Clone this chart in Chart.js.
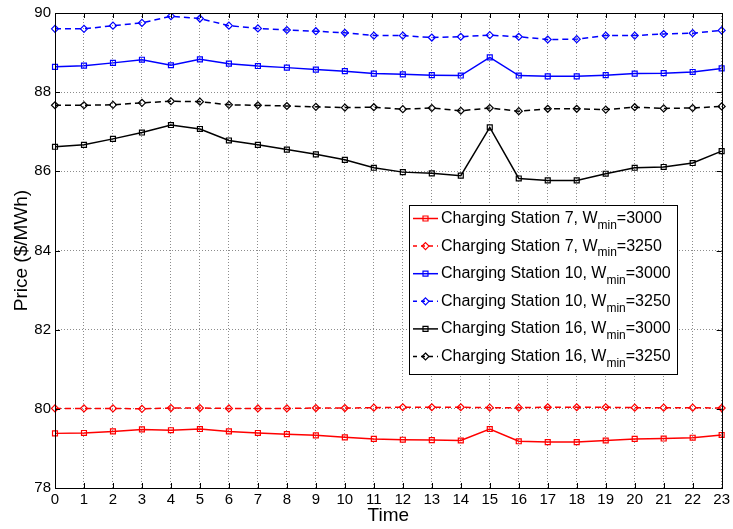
<!DOCTYPE html>
<html lang="en">
<head>
  <meta charset="UTF-8" />
  <title>Price per charging station</title>
  <style>
    body { margin: 0; background: #ffffff; }
    #wrap { width: 733px; height: 529px; }
  </style>
</head>
<body>
  <div id="wrap"><canvas id="priceChart" width="733" height="529"></canvas></div>

  <script src="https://cdn.jsdelivr.net/npm/chart.js"></script>
  <script>
    // time slots 0..23
    const hours = ['0','1','2','3','4','5','6','7','8','9','10','11','12','13','14','15','16','17','18','19','20','21','22','23'];

    const cs7_3000 = [79.38, 79.39, 79.43, 79.48, 79.46, 79.49, 79.43, 79.39, 79.36, 79.33, 79.28, 79.24,
                      79.22, 79.21, 79.20, 79.49, 79.18, 79.16, 79.16, 79.20, 79.24, 79.25, 79.27, 79.34];
    const cs7_3250 = [80.01, 80.01, 80.01, 80.00, 80.02, 80.02, 80.01, 80.01, 80.01, 80.02, 80.02, 80.03,
                      80.04, 80.04, 80.04, 80.03, 80.03, 80.04, 80.04, 80.04, 80.03, 80.03, 80.03, 80.02];
    const cs10_3000 = [88.64, 88.67, 88.74, 88.82, 88.68, 88.83, 88.72, 88.66, 88.62, 88.57, 88.53, 88.47,
                       88.45, 88.43, 88.42, 88.88, 88.42, 88.40, 88.40, 88.43, 88.47, 88.48, 88.51, 88.60];
    const cs10_3250 = [89.60, 89.60, 89.68, 89.75, 89.92, 89.86, 89.68, 89.61, 89.57, 89.54, 89.50, 89.43,
                       89.43, 89.38, 89.40, 89.44, 89.40, 89.33, 89.34, 89.43, 89.43, 89.47, 89.49, 89.56];
    const cs16_3000 = [86.62, 86.67, 86.82, 86.98, 87.17, 87.07, 86.78, 86.67, 86.55, 86.43, 86.29, 86.09,
                       85.98, 85.95, 85.89, 87.11, 85.82, 85.77, 85.77, 85.94, 86.09, 86.11, 86.21, 86.51];
    const cs16_3250 = [87.67, 87.67, 87.68, 87.73, 87.77, 87.76, 87.68, 87.67, 87.65, 87.63, 87.61, 87.62,
                       87.57, 87.60, 87.53, 87.60, 87.52, 87.58, 87.58, 87.56, 87.62, 87.59, 87.60, 87.64];

    const stations = ['7', '7', '10', '10', '16', '16'];
    const wmin = ['3000', '3250', '3000', '3250', '3000', '3250'];
    const yTicks = [78, 80, 82, 84, 86, 88, 90];

    const FONT = '"Liberation Sans", Arial, Helvetica, sans-serif';

    const series = [
      { data: cs7_3000, color: '#ff0000', dashed: false },
      { data: cs7_3250, color: '#ff0000', dashed: true },
      { data: cs10_3000, color: '#0000ff', dashed: false },
      { data: cs10_3250, color: '#0000ff', dashed: true },
      { data: cs16_3000, color: '#000000', dashed: false },
      { data: cs16_3250, color: '#000000', dashed: true }
    ];

    const datasets = series.map((s, i) => ({
      label: `Charging Station ${stations[i]}, Wmin=${wmin[i]}`,
      data: s.data,
      borderColor: s.color,
      backgroundColor: s.color,
      borderWidth: 1.5,
      borderDash: s.dashed ? [6, 4] : [],
      pointStyle: s.dashed ? 'rectRot' : 'rect',
      pointRadius: 3.5,
      pointBorderWidth: 1.2,
      pointBackgroundColor: 'rgba(0,0,0,0)',
      pointBorderColor: s.color,
      tension: 0,
      fill: false
    }));

    // matlab-like box with inward ticks
    const framePlugin = {
      id: 'frame',
      afterDatasetsDraw(chart) {
        const { ctx, chartArea: a, scales } = chart;
        ctx.save();
        ctx.strokeStyle = '#000';
        ctx.lineWidth = 1;
        ctx.setLineDash([]);
        ctx.beginPath();
        const tl = 5;
        hours.forEach((h, i) => {
          const x = Math.round(scales.x.getPixelForValue(i)) + 0.5;
          ctx.moveTo(x, a.bottom); ctx.lineTo(x, a.bottom - tl);
          ctx.moveTo(x, a.top); ctx.lineTo(x, a.top + tl);
        });
        yTicks.forEach(v => {
          const y = Math.round(scales.y.getPixelForValue(v)) + 0.5;
          ctx.moveTo(a.left, y); ctx.lineTo(a.left + tl, y);
          ctx.moveTo(a.right, y); ctx.lineTo(a.right - tl, y);
        });
        ctx.stroke();
        ctx.strokeRect(Math.round(a.left) + 0.5, Math.round(a.top) + 0.5,
                       Math.round(a.right - a.left), Math.round(a.bottom - a.top));
        ctx.restore();
      }
    };

    // legend with subscripts
    const legendPlugin = {
      id: 'subLegend',
      afterDraw(chart) {
        const { ctx, chartArea: a } = chart;
        const bx = a.left + 354, by = a.top + 192, bw = 268, bh = 169;
        ctx.save();
        ctx.fillStyle = '#fff';
        ctx.fillRect(bx, by, bw, bh);
        ctx.strokeStyle = '#000';
        ctx.lineWidth = 1;
        ctx.strokeRect(bx + 0.5, by + 0.5, bw, bh);
        series.forEach((s, i) => {
          const cy = by + 13.5 + i * 27.6;
          ctx.strokeStyle = s.color;
          ctx.lineWidth = 1.5;
          ctx.setLineDash(s.dashed ? [4, 4] : []);
          ctx.beginPath();
          ctx.moveTo(bx + 4, cy); ctx.lineTo(bx + 29, cy);
          ctx.stroke();
          ctx.setLineDash([]);
          ctx.lineWidth = 1.2;
          ctx.beginPath();
          const mx = bx + 16.5;
          if (s.dashed) {
            ctx.moveTo(mx, cy - 3.5); ctx.lineTo(mx + 3.5, cy); ctx.lineTo(mx, cy + 3.5); ctx.lineTo(mx - 3.5, cy); ctx.closePath();
          } else {
            ctx.rect(mx - 2.5, cy - 2.5, 5, 5);
          }
          ctx.stroke();
          ctx.fillStyle = '#000';
          ctx.textBaseline = 'middle';
          let tx = bx + 32;
          ctx.font = `16px ${FONT}`;
          const t1 = `Charging Station ${stations[i]}, W`;
          ctx.fillText(t1, tx, cy);
          tx += ctx.measureText(t1).width;
          ctx.font = `12px ${FONT}`;
          ctx.fillText('min', tx, cy + 7);
          tx += ctx.measureText('min').width;
          ctx.font = `16px ${FONT}`;
          ctx.fillText(`=${wmin[i]}`, tx, cy);
        });
        ctx.restore();
      }
    };

    new Chart(document.getElementById('priceChart').getContext('2d'), {
      type: 'line',
      data: { labels: hours, datasets },
      options: {
        responsive: false,
        animation: false,
        layout: { padding: { left: 0, top: 13, right: 8, bottom: 0 } },
        plugins: {
          legend: { display: false },
          tooltip: { enabled: false }
        },
        scales: {
          x: {
            type: 'category',
            offset: false,
            afterFit(scale) { scale.height = 41; },
            grid: { color: '#8c8c8c', lineWidth: 1, drawTicks: false },
            border: { display: false, dash: [1, 2] },
            ticks: { color: '#000', padding: 3, maxRotation: 0, autoSkip: false, font: { family: FONT, size: 15 } },
            title: { display: true, text: 'Time', color: '#000', font: { family: FONT, size: 19 }, padding: { top: 0, bottom: 2 } }
          },
          y: {
            min: 78,
            max: 90,
            afterFit(scale) { scale.width = 55; },
            afterBuildTicks(scale) { scale.ticks = yTicks.map(v => ({ value: v })); },
            grid: { color: '#8c8c8c', lineWidth: 1, drawTicks: false },
            border: { display: false, dash: [1, 2] },
            ticks: { color: '#000', padding: 4, font: { family: FONT, size: 15 } },
            title: { display: true, text: 'Price ($/MWh)', color: '#000', font: { family: FONT, size: 19 }, padding: { top: 10, bottom: 0 } }
          }
        }
      },
      plugins: [framePlugin, legendPlugin]
    });
  </script>
</body>
</html>
